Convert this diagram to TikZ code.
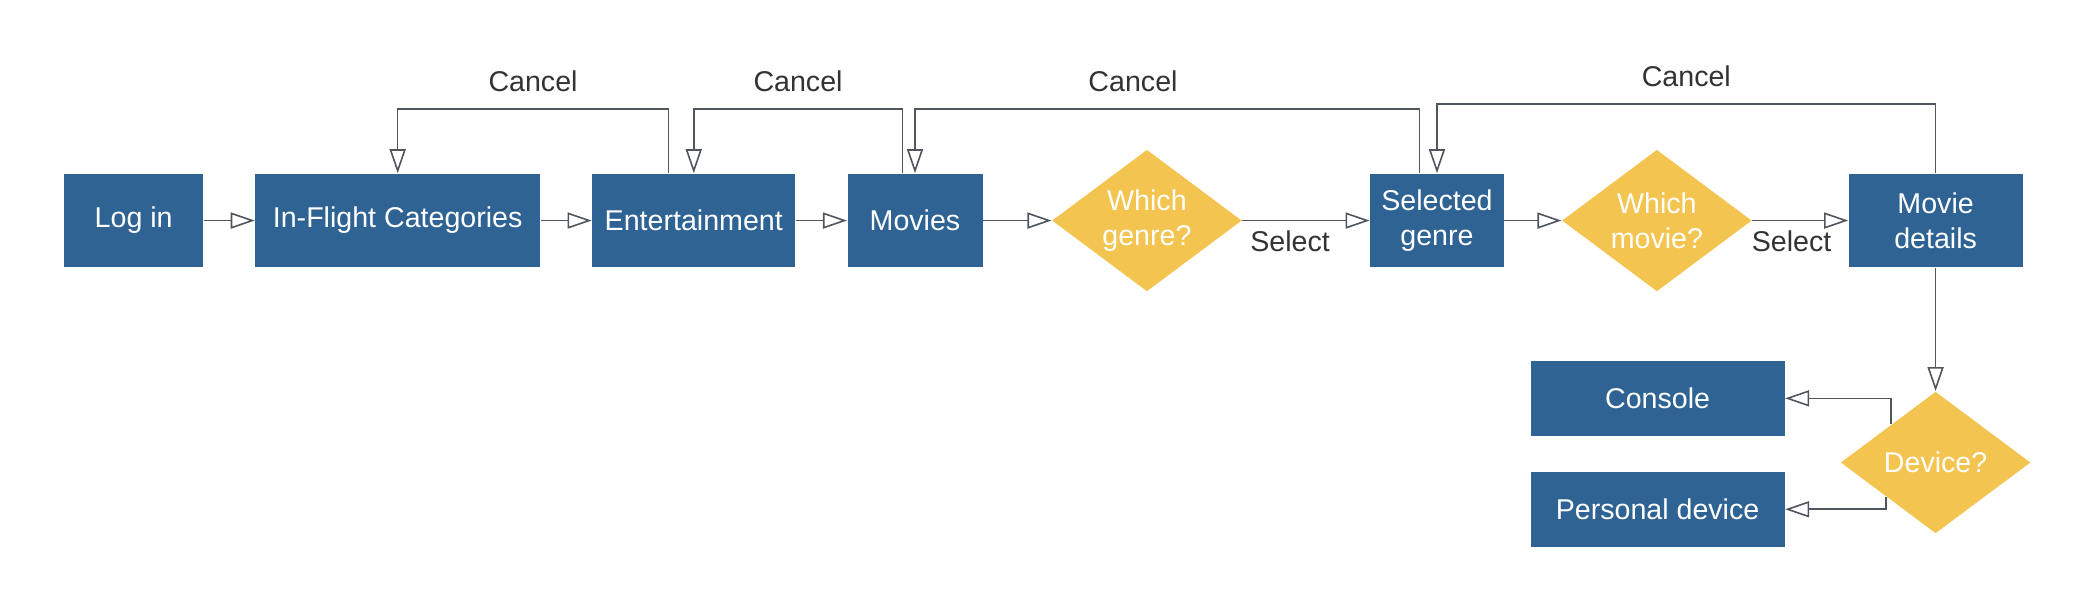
\documentclass[tikz,border=0pt]{standalone}
\usepackage{fontspec}
\setmainfont{Liberation Sans}
\usetikzlibrary{shapes.geometric,arrows.meta,calc}

\definecolor{boxblue}{HTML}{2E6394}
\definecolor{askyellow}{HTML}{F3C450}
\definecolor{linegray}{HTML}{4F565E}
\definecolor{labelgray}{HTML}{333333}

\tikzset{
  txt/.style={font=\fontsize{10.7}{13}\selectfont},
  box/.style={txt, rectangle, fill=boxblue, text=white, inner sep=0pt, minimum height=35pt, align=center},
  ask/.style={txt, diamond, aspect=1.34, fill=askyellow, text=white, inner sep=0pt, minimum width=71pt, minimum height=53pt, align=center},
  flow/.style={draw=linegray, line width=0.6pt, -{Triangle[open, length=9pt, width=6pt]}},
  lbl/.style={txt, text=labelgray, inner sep=0pt}
}

\begin{document}
\begin{tikzpicture}[x=0.5pt,y=-0.5pt]
\useasboundingbox (0,0) rectangle (1568,459.3);
% main row
\node [box, minimum width=52pt] (login) at (100,165) {Log in};
\node [box, minimum width=106.5pt] (cats) at (297.5,165) {In-Flight Categories};
\node [box, minimum width=76pt] (ent) at (519,165) {Entertainment};
\node [box, minimum width=50.5pt] (movies) at (684.5,165) {Movies};
\node [ask] (genre) at (858,165) {Which\\genre?};
\node [box, minimum width=50pt] (selgenre) at (1075,165) {Selected\\genre};
\node [ask] (movie) at (1239.5,165) {Which\\movie?};
\node [box, minimum width=65pt] (details) at (1448,165) {Movie\\details};
% device choice
\node [ask] (device) at (1448,346) {Device?};
\node [box, minimum width=95pt, minimum height=28pt] (console) at (1240,298) {Console};
\node [box, minimum width=95pt, minimum height=28pt] (personal) at (1240,381) {Personal device};

\foreach \a/\b in {login/cats, cats/ent, ent/movies, movies/genre, selgenre/movie}
	\draw [flow] (\a) -- (\b);
\draw [flow] (genre.east) -- node [lbl, below=3.5pt, pos=.375] {Select} (selgenre.west);
\draw [flow] (movie.east) -- node [lbl, below=3.5pt, pos=.41] {Select} (details.west);

% cancel loops
\draw [flow] ([xshift=-9.5pt]ent.north) -- ++(0,-48) -| node [lbl, above=6pt, pos=.25] {Cancel} (cats.north);
\draw [flow] ([xshift=-4.75pt]movies.north) -- ++(0,-48) -| node [lbl, above=6pt, pos=.25] {Cancel} (ent.north);
\draw [flow] ([xshift=-6.5pt]selgenre.north) -- ++(0,-48) -| node [lbl, above=6pt, pos=.284] {Cancel} (movies.north);
\draw [flow] (details.north) -- ++(0,-52) -| node [lbl, above=6pt, pos=.25] {Cancel} (selgenre.north);

\draw [flow] (details) -- (device);
\draw [flow] ($(device.west)!.535!(device.north)$) |- (console.east);
\draw [flow] ($(device.west)!.48!(device.south)$) |- (personal.east);
\end{tikzpicture}
\end{document}
